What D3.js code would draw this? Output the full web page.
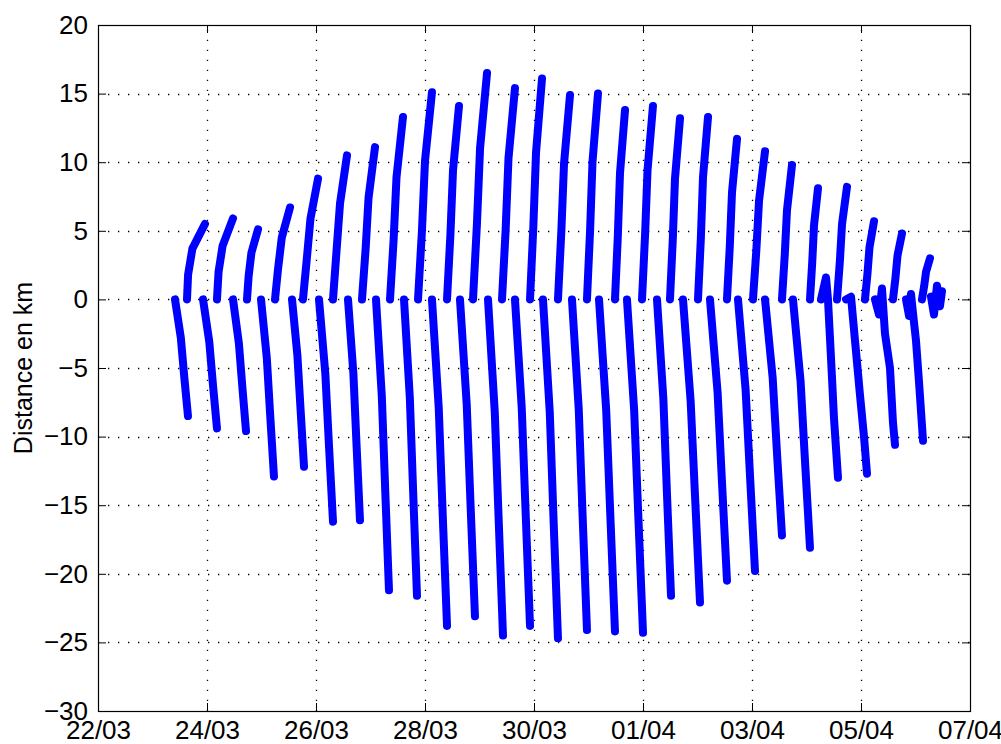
<!DOCTYPE html>
<html>
<head>
<meta charset="utf-8">
<script src="https://cdn.jsdelivr.net/npm/d3@7"></script>
<style>
  body { margin: 0; background: #fff; }
  text { font-family: "Liberation Sans", Arial, sans-serif; }
</style>
</head>
<body>
<script>
// days are counted from 1 March (32 = 1 April)
var xTickDays = [22, 24, 26, 28, 30, 32, 34, 36, 38];
var xTickLabels = ["22/03", "24/03", "26/03", "28/03", "30/03", "01/04", "03/04", "05/04", "07/04"];
var yTicks = [-30, -25, -20, -15, -10, -5, 0, 5, 10, 15, 20];

// passes going away from 0 downwards: [day, km]
var downPasses = [
    [[23.413,0],[23.520,-2.8],[23.584,-5.7],[23.651,-8.5]],
    [[23.927,0],[24.042,-3.1],[24.111,-6.3],[24.183,-9.4]],
    [[24.477,0],[24.585,-3.2],[24.649,-6.4],[24.716,-9.6]],
    [[24.991,0],[25.098,-4.3],[25.162,-8.6],[25.229,-12.9]],
    [[25.560,0],[25.659,-4.1],[25.718,-8.1],[25.780,-12.2]],
    [[26.055,0],[26.171,-5.4],[26.240,-10.8],[26.312,-16.2]],
    [[26.587,0],[26.686,-5.4],[26.745,-10.7],[26.807,-16.1]],
    [[27.101,0],[27.208,-7.1],[27.272,-14.1],[27.339,-21.2]],
    [[27.615,0],[27.722,-7.2],[27.786,-14.4],[27.853,-21.6]],
    [[28.128,0],[28.252,-7.9],[28.327,-15.9],[28.404,-23.8]],
    [[28.642,0],[28.766,-7.7],[28.840,-15.4],[28.917,-23.1]],
    [[29.156,0],[29.280,-8.2],[29.354,-16.3],[29.431,-24.5]],
    [[29.651,0],[29.775,-7.9],[29.850,-15.9],[29.927,-23.8]],
    [[30.165,0],[30.289,-8.2],[30.363,-16.5],[30.440,-24.7]],
    [[30.697,0],[30.821,-8.0],[30.895,-16.1],[30.972,-24.1]],
    [[31.193,0],[31.325,-8.1],[31.404,-16.1],[31.486,-24.2]],
    [[31.706,0],[31.838,-8.1],[31.918,-16.2],[32.000,-24.3]],
    [[32.257,0],[32.373,-7.2],[32.442,-14.4],[32.514,-21.6]],
    [[32.734,0],[32.874,-7.4],[32.959,-14.7],[33.046,-22.1]],
    [[33.229,0],[33.369,-6.8],[33.454,-13.7],[33.541,-20.5]],
    [[33.743,0],[33.883,-6.6],[33.968,-13.2],[34.055,-19.8]],
    [[34.239,0],[34.379,-5.7],[34.463,-11.5],[34.550,-17.2]],
    [[34.752,0],[34.892,-6.0],[34.977,-12.1],[35.064,-18.1]],
    [[35.266,0],[35.358,1.6],[35.394,0],[35.450,-4.3],[35.505,-8.7],[35.578,-13.0]],
    [[35.725,0],[35.817,0.2],[35.890,-3.0],[35.982,-7.0],[36.055,-10.0],[36.110,-12.7]],
    [[36.257,0],[36.330,-1.1],[36.385,0.8],[36.440,-2.5],[36.532,-5.0],[36.587,-9.0],[36.624,-10.6]],
    [[36.826,0],[36.881,-1.2],[36.917,0.4],[36.954,-1.0],[37.009,-3.0],[37.064,-6.0],[37.138,-10.3]],
    [[37.284,0.2],[37.339,-1.1],[37.394,1.0],[37.449,-0.5],[37.486,0.6]]
];

// passes going up from 0
var upPasses = [
    [[23.633,0],[23.653,1.8],[23.732,3.7],[23.963,5.5]],
    [[24.183,0],[24.212,2.0],[24.286,3.9],[24.477,5.9]],
    [[24.734,0],[24.764,1.7],[24.815,3.4],[24.936,5.1]],
    [[25.248,0],[25.303,2.2],[25.372,4.5],[25.523,6.7]],
    [[25.761,0],[25.830,2.9],[25.899,5.9],[26.037,8.8]],
    [[26.312,0],[26.376,3.5],[26.441,7.0],[26.569,10.5]],
    [[26.844,0],[26.911,3.7],[26.964,7.4],[27.083,11.1]],
    [[27.358,0],[27.425,4.4],[27.477,8.9],[27.596,13.3]],
    [[27.872,0],[27.944,5.0],[28.000,10.1],[28.128,15.1]],
    [[28.404,0],[28.466,4.7],[28.514,9.4],[28.624,14.1]],
    [[28.881,0],[28.953,5.5],[29.010,11.0],[29.138,16.5]],
    [[29.413,0],[29.480,5.1],[29.532,10.3],[29.651,15.4]],
    [[29.927,0],[29.989,5.4],[30.037,10.7],[30.147,16.1]],
    [[30.440,0],[30.502,5.0],[30.551,9.9],[30.661,14.9]],
    [[30.972,0],[31.029,5.0],[31.073,10.0],[31.174,15.0]],
    [[31.486,0],[31.538,4.6],[31.578,9.2],[31.670,13.8]],
    [[31.982,0],[32.038,4.7],[32.083,9.4],[32.183,14.1]],
    [[32.495,0],[32.547,4.4],[32.587,8.8],[32.679,13.2]],
    [[33.009,0],[33.061,4.4],[33.101,8.9],[33.193,13.3]],
    [[33.541,0],[33.593,3.9],[33.633,7.8],[33.725,11.7]],
    [[34.018,0],[34.080,3.6],[34.129,7.2],[34.239,10.8]],
    [[34.550,0],[34.602,3.3],[34.642,6.5],[34.734,9.8]],
    [[35.064,0],[35.105,2.7],[35.138,5.4],[35.211,8.1]],
    [[35.560,0],[35.611,2.7],[35.652,5.5],[35.743,8.2]],
    [[36.073,0],[36.119,1.9],[36.156,3.8],[36.239,5.7]],
    [[36.587,0],[36.633,1.6],[36.670,3.2],[36.752,4.8]],
    [[37.119,0],[37.160,1.0],[37.193,2.0],[37.266,3.0]]
];

var width = 1001,
    height = 744,
    margin = {top: 25, right: 31, bottom: 33, left: 98},
    w = width - margin.left - margin.right,
    h = height - margin.top - margin.bottom;

const dayToDate = d => new Date(Date.UTC(2012, 2, 1) + (d - 1) * 864e5);

var x = d3.scaleUtc()
    .domain([dayToDate(22), dayToDate(38)])
    .range([0, w]);

var y = d3.scaleLinear()
    .domain([-30, 20])
    .range([h, 0]);

var svg = d3.select("body").append("svg")
    .attr("width", width)
    .attr("height", height);

var g = svg.append("g")
    .attr("transform", "translate(" + margin.left + "," + margin.top + ")");

// dotted grid
g.append("g").selectAll("line")
    .data(xTickDays.slice(1, -1))
    .enter().append("line")
    .attr("x1", d => Math.round(x(dayToDate(d))) + 0.5)
    .attr("x2", d => Math.round(x(dayToDate(d))) + 0.5)
    .attr("y1", h).attr("y2", 0)
    .attr("stroke", "#000")
    .attr("stroke-width", 1.3)
    .attr("stroke-dasharray", "1.3,8.7");

g.append("g").selectAll("line")
    .data(yTicks.slice(1, -1))
    .enter().append("line")
    .attr("y1", d => Math.round(y(d)) + 0.5)
    .attr("y2", d => Math.round(y(d)) + 0.5)
    .attr("x1", 0).attr("x2", w)
    .attr("stroke", "#000")
    .attr("stroke-width", 1.3)
    .attr("stroke-dasharray", "1.3,8.7");

// passes
var line = d3.line()
    .x(d => x(dayToDate(d[0])))
    .y(d => y(d[1]));

g.append("g").selectAll("path")
    .data(downPasses.concat(upPasses))
    .enter().append("path")
    .attr("d", line)
    .attr("fill", "none")
    .attr("stroke", "#0000ff")
    .attr("stroke-width", 8)
    .attr("stroke-linejoin", "round")
    .attr("stroke-linecap", "round");

// axes
var xAxis = d3.axisBottom(x)
    .tickValues(xTickDays.map(dayToDate))
    .tickFormat((d, i) => xTickLabels[i])
    .tickSizeInner(-8)
    .tickSizeOuter(0)
    .tickPadding(9);

var yAxis = d3.axisLeft(y)
    .tickValues(yTicks)
    .tickSizeInner(-8)
    .tickSizeOuter(0)
    .tickPadding(10);

var gx = g.append("g")
    .attr("transform", "translate(0," + h + ")")
    .call(xAxis);

var gy = g.append("g").call(yAxis);

g.append("g").call(d3.axisTop(x).tickValues(xTickDays.map(dayToDate)).tickFormat("").tickSizeInner(-8).tickSizeOuter(0));
g.append("g").attr("transform", "translate(" + w + ",0)")
    .call(d3.axisRight(y).tickValues(yTicks).tickFormat("").tickSizeInner(-8).tickSizeOuter(0));

g.selectAll(".domain").remove();
g.selectAll(".tick line").attr("stroke", "#000");

[gx, gy].forEach(a => a.selectAll("text")
    .attr("fill", "#000")
    .style("font-size", "26px")
    .style("font-family", "'Liberation Sans', Arial, sans-serif"));

gx.selectAll("text").attr("dy", "0.72em");

g.append("rect")
    .attr("x", 0.5).attr("y", 0.5)
    .attr("width", w).attr("height", h)
    .attr("fill", "none")
    .attr("stroke", "#000")
    .attr("stroke-width", 1.2);

svg.append("text")
    .attr("transform", "translate(32," + (margin.top + h / 2) + ") rotate(-90)")
    .attr("text-anchor", "middle")
    .style("font-size", "25px")
    .text("Distance en km");
</script>
</body>
</html>
